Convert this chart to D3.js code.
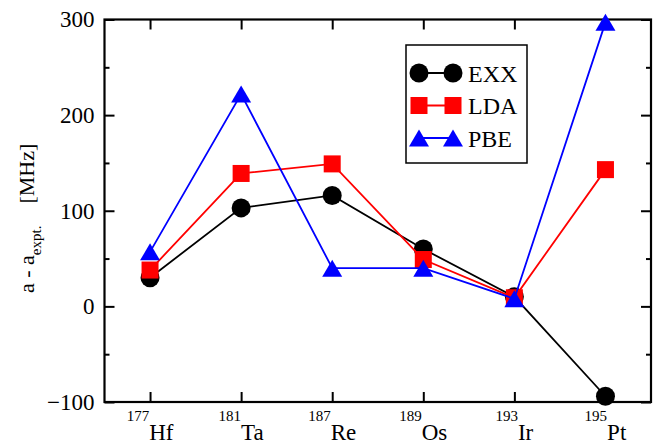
<!DOCTYPE html>
<html>
<head>
<meta charset="utf-8">
<script src="https://cdn.jsdelivr.net/npm/d3@7"></script>
<style>
  body { margin: 0; background: #fff; }
  text { font-family: "Liberation Serif", "DejaVu Serif", serif; fill: #000; }
</style>
</head>
<body>
<script>
// data
var isotopes = ["177", "181", "187", "189", "193", "195"];
var elements = ["Hf", "Ta", "Re", "Os", "Ir", "Pt"];
var exx = [30, 103, 116, 60, 10, -94];
var lda = [38, 139, 149, 49, 9, 143];
var pbe = [57, 222, 40, 40, 8, 297];
var yMajor = [-100, 0, 100, 200, 300];
var yMinor = [-50, 50, 150, 250];
var seriesNames = ["EXX", "LDA", "PBE"];

var margin = {top: 19.5, right: 12, bottom: 42, left: 104.5},
    width = 663 - margin.left - margin.right,
    height = 444 - margin.top - margin.bottom;

var svg = d3.select("body")
  .append("svg")
    .attr("width", 663)
    .attr("height", 444)
  .append("g")
    .attr("transform", "translate(" + margin.left + "," + margin.top + ")");

var x = d3.scalePoint()
  .domain(elements)
  .range([0, width])
  .padding(0.5);

var y = d3.scaleLinear()
  .domain([-100, 300])
  .range([height, 0]);

// ticks (pointing inward)
function styleAxis(g) {
  g.select(".domain").remove();
  g.selectAll("line").attr("stroke", "#000").attr("stroke-width", 2);
}

svg.append("g")
  .call(d3.axisLeft(y).tickValues(yMajor).tickSize(-10).tickPadding(10))
  .call(styleAxis)
  .selectAll("text")
    .style("font-size", "23px")
    .style("font-family", "Liberation Serif");

svg.append("g")
  .call(d3.axisLeft(y).tickValues(yMinor).tickSize(-5).tickFormat(""))
  .call(styleAxis);

svg.append("g")
  .attr("transform", "translate(" + width + ",0)")
  .call(d3.axisRight(y).tickValues(yMajor).tickSize(-10).tickFormat(""))
  .call(styleAxis);

svg.append("g")
  .attr("transform", "translate(" + width + ",0)")
  .call(d3.axisRight(y).tickValues(yMinor).tickSize(-5).tickFormat(""))
  .call(styleAxis);

svg.append("g")
  .attr("transform", "translate(0," + height + ")")
  .call(d3.axisBottom(x).tickSize(-10).tickFormat(""))
  .call(styleAxis);

svg.append("g")
  .call(d3.axisTop(x).tickSize(-10).tickFormat(""))
  .call(styleAxis);

// frame
svg.append("rect")
  .attr("width", width)
  .attr("height", height)
  .attr("fill", "none")
  .attr("stroke", "#000")
  .attr("stroke-width", 2.2);

// x labels with isotope superscript
var xl = svg.append("g").selectAll("text")
  .data(d3.zip(isotopes, elements))
  .enter()
  .append("text")
    .attr("x", function(d) { return x(d[1]); })
    .attr("y", height + 38)
    .attr("text-anchor", "middle");
xl.append("tspan")
  .attr("dy", -19)
  .style("font-size", "15px")
  .text(function(d) { return d[0]; });
xl.append("tspan")
  .attr("dy", 19)
  .style("font-size", "23px")
  .text(function(d) { return d[1]; });

// y label
var yl = svg.append("text")
  .attr("transform", "translate(-71," + (y(92)) + ") rotate(-90)")
  .attr("text-anchor", "middle")
  .style("font-size", "22px");
yl.append("tspan").text("a - a");
yl.append("tspan").attr("dy", 7).style("font-size", "15px").text("expt.");
yl.append("tspan").attr("dy", -7).attr("dx", 22).text("[MHz]");

// symbols
function triPath(w, h) {
  return "M0," + (-h / 2) + "L" + (w / 2) + "," + (h / 2) + "L" + (-w / 2) + "," + (h / 2) + "Z";
}

function drawMarker(g, type, color) {
  if (type == "circle") {
    g.append("circle").attr("r", 9.5).attr("fill", color);
  } else if (type == "square") {
    g.append("rect").attr("x", -8.5).attr("y", -8.5).attr("width", 17).attr("height", 17).attr("fill", color);
  } else {
    g.append("path").attr("d", triPath(20, 17)).attr("fill", color);
  }
}

var sets = [
  {name: seriesNames[0], values: exx, color: "#000000", symbol: "circle"},
  {name: seriesNames[1], values: lda, color: "#ff0000", symbol: "square"},
  {name: seriesNames[2], values: pbe, color: "#0000ff", symbol: "triangle"}
];

var line = d3.line()
  .x(function(d) { return x(d[0]); })
  .y(function(d) { return y(d[1]); });

sets.forEach(function(s) {
  var pts = d3.zip(elements, s.values);
  svg.append("path")
    .datum(pts)
    .attr("fill", "none")
    .attr("stroke", s.color)
    .attr("stroke-width", 1.8)
    .attr("d", line);
  pts.forEach(function(p) {
    var g = svg.append("g")
      .attr("transform", "translate(" + x(p[0]) + "," + y(p[1]) + ")");
    drawMarker(g, s.symbol, s.color);
  });
});

// legend
var leg = svg.append("g")
  .attr("transform", "translate(" + (406 - margin.left) + "," + (45 - margin.top) + ")");
leg.append("rect")
  .attr("width", 121)
  .attr("height", 118)
  .attr("fill", "#fff")
  .attr("stroke", "#000")
  .attr("stroke-width", 1.5);

sets.forEach(function(s, i) {
  var ly = 28 + i * 32.5;
  leg.append("line")
    .attr("x1", 13).attr("x2", 47)
    .attr("y1", ly).attr("y2", ly)
    .attr("stroke", s.color)
    .attr("stroke-width", 1.8);
  drawMarker(leg.append("g").attr("transform", "translate(13," + ly + ")"), s.symbol, s.color);
  drawMarker(leg.append("g").attr("transform", "translate(47," + ly + ")"), s.symbol, s.color);
  leg.append("text")
    .attr("x", 62)
    .attr("y", ly + 8.5)
    .style("font-size", "24px")
    .text(s.name);
});
</script>
</body>
</html>
